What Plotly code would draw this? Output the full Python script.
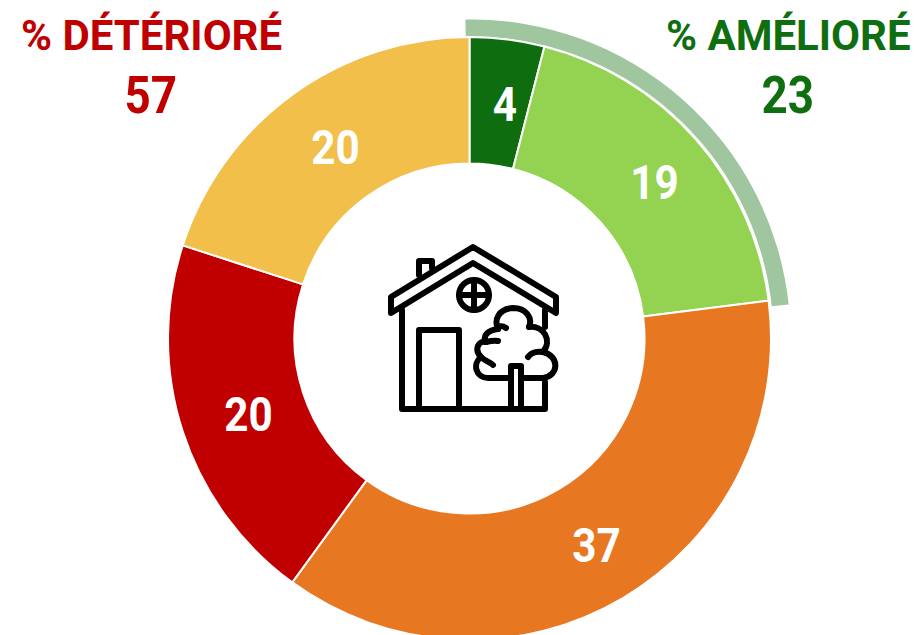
import math
import re
import plotly.graph_objects as go

W, H = 918, 700
FONT = "Roboto"

categories = ["Beaucoup amélioré", "Amélioré", "Inchangé", "Détérioré", "Beaucoup détérioré"]
values = [4, 19, 37, 20, 20]
colors = ["#0E6E0F", "#94D352", "#E87722", "#C00000", "#F2BF4B"]
ring_values = [23.6, 76.4]
ring_colors = ["#A0C6A0", "rgba(0,0,0,0)"]
worse_label, worse_value = "% DÉTÉRIORÉ", 57
better_label, better_value = "% AMÉLIORÉ", 23
RED, GREEN = "#C00000", "#0F6F10"
CX, CY, R_OUT, R_IN = 469.5, 338.5, 301.5, 175


def dom(cx, cy, r):
    return dict(x=[(cx - r) / W, (cx + r) / W], y=[1 - (cy + r) / H, 1 - (cy - r) / H])


def p(path):
    nums = iter(re.findall(r"-?\d+\.?\d*|[A-Za-z]", path))
    out = []
    for t in nums:
        if t.isalpha():
            out.append(t)
        else:
            y = float(next(nums))
            out.append(f"{float(t)/W:.5f},{1-y/H:.5f}")
    return " ".join(out)


icon_paths = [
    "M473 247 L391 297 L391 313 L473 263 L556 313 L556 297 Z",
    "M419 275 L419 261 L432 261 L432 268",
    "M402 310 L402 409 L545 409 L545 382",
    "M545 310 L545 327",
    "M419 409 L419 330 L459 330 L459 409",
    "M474 281 L474 310",
    "M459 295 L489 295",
    "M511 409 L511 366 L521 366 L521 409",
    "M508 378 L488 378 C476 378 472 364 481 357 C474 350 478 340 486 342 C482 335 489 330 498 329",
    "M493 365 C490 362 485 361 481 357",
    "M498 341 C494 340 490 341 486 342",
    "M506 328 C502 325 498 326 498 329 C494 320 498 309 513 308 C526 308 533 318 529 327",
    "M529 327 C543 325 553 340 543 352 C535 351 530 354 528 357",
    "M543 352 C560 356 559 376 543 378 L523 378",
]
shapes = [dict(type="path", path=p(s), xref="paper", yref="paper",
               line=dict(color="black", width=6)) for s in icon_paths]
shapes.append(dict(type="circle", xref="paper", yref="paper",
                   x0=459 / W, x1=489 / W, y0=1 - 310 / H, y1=1 - 280 / H,
                   line=dict(color="black", width=6)))

fig = go.Figure()
fig.add_trace(go.Pie(values=ring_values, marker=dict(colors=ring_colors, line=dict(width=0)),
                     domain=dom(471.5, CY, 319), hole=302 / 319, sort=False,
                     direction="clockwise", rotation=-1.1, textinfo="none", hoverinfo="skip",
                     showlegend=False))
fig.add_trace(go.Pie(labels=categories, values=values,
                     marker=dict(colors=colors, line=dict(color="white", width=2)),
                     domain=dom(CX, CY, R_OUT), hole=R_IN / R_OUT, sort=False,
                     direction="clockwise", rotation=0, textinfo="none",
                     showlegend=False))


def note(text, x, y, color, size):
    fig.add_annotation(text=text, x=x / W, y=1 - y / H, xref="paper", yref="paper",
                       showarrow=False, xanchor="center", yanchor="middle",
                       font=dict(family=FONT, size=size, color=color, weight="bold"))


note(worse_label, 151, 36, RED, 42)
note(str(worse_value), 151, 96, RED, 52)
note(better_label, 788, 36, GREEN, 42)
note(str(better_value), 788, 96, GREEN, 52)

# slice labels centred on each slice's mid-angle, derived from the values
cum = 0
total = sum(values)
for v in values:
    a = 2 * math.pi * (cum + v / 2) / total
    cum += v
    rm = (R_OUT + R_IN) / 2
    note(str(v), CX + rm * math.sin(a) + 6, CY - rm * math.cos(a) + 2, "white", 48)

fig.update_layout(width=W, height=H, margin=dict(l=0, r=0, t=0, b=0), shapes=shapes,
                  paper_bgcolor="white", showlegend=False)

post = """
document.documentElement.style.overflow='hidden';
document.body.style.overflow='hidden';
document.body.style.margin='0';
document.querySelectorAll('.shapelayer path').forEach(function(e){
  e.style.strokeLinejoin='round';e.style.strokeLinecap='round';});
document.querySelectorAll('.annotation-text').forEach(function(t){
  if(/^[0-9]+$/.test(t.textContent.trim())){
    t.setAttribute('textLength', t.getComputedTextLength()*0.88);
    t.setAttribute('lengthAdjust','spacingAndGlyphs');
  }});
"""
fig.write_html("out.html", post_script=post, config=dict(displayModeBar=False))
